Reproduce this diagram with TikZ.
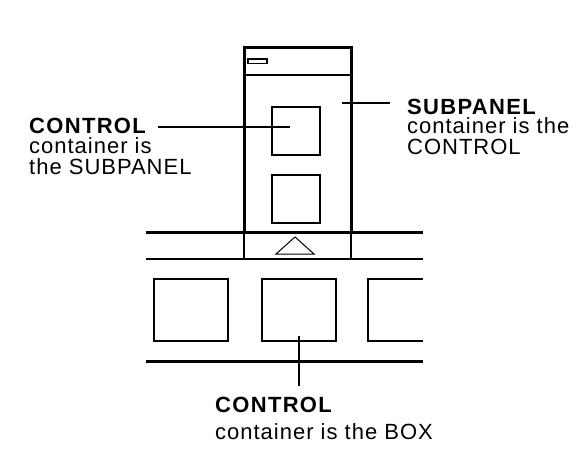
\documentclass[tikz,border=0pt]{standalone}
\usepackage{fontspec}
\setmainfont{Liberation Sans}
\newfontfamily\bodyfont{Liberation Sans}[LetterSpace=4.5]
\newfontfamily\headfont{Liberation Sans}[LetterSpace=6]
\usetikzlibrary{positioning}

\tikzset{
  heavy/.style={line width=3pt},
  light/.style={line width=2pt},
  ctrlbox/.style={draw,light,inner sep=0pt,minimum width=48pt,minimum height=48pt},
  slotbox/.style={draw,light,inner sep=0pt,minimum width=74pt,minimum height=62pt},
  head/.style={inner sep=0pt,anchor=base west,font=\headfont\bfseries\fontsize{22}{22}\selectfont},
  body/.style={inner sep=0pt,anchor=base west,font=\bodyfont\fontsize{22}{22}\selectfont},
  leader/.style={line width=1.5pt},
}

\begin{document}
\begin{tikzpicture}[x=1pt,y=-1pt]
  \useasboundingbox (0,0) rectangle (586,468);
  % box rows
  \draw[heavy] (146,232) -- (423,232);
  \draw[light] (146,259) -- (423,259);
  \draw[heavy] (146,361.5) -- (423,361.5);
  \draw[light] (244,232) -- (244,259);
  \draw[light] (351,232) -- (351,259);
  \draw[line width=1pt] (276,254) -- (295,237) -- (314,254) -- cycle;
  \node[slotbox] (slotA) at (191,310) {};
  \node[slotbox] (slotB) at (299,310) {};
  \draw[light] (423,279) -- (368,279) -- (368,341) -- (423,341);
  % subpanel
  \node[draw,heavy,inner sep=0pt,minimum width=107pt,minimum height=184pt] (subpanel) at (297.5,140) {};
  \draw[light] (244,75) -- (351,75);
  \draw[line width=1.5pt] (248,59) rectangle (267,63.5);
  \node[ctrlbox] (ctrlA) at (296,131) {};
  \node[ctrlbox] (ctrlB) at (296,199) {};
  % labels
  \node[head] (ctrlHead) at (29,133) {CONTROL};
  \node[body] (ctrlBodyA) at ([yshift=-20.5pt]ctrlHead.base west) {container is};
  \node[body] (ctrlBodyB) at ([yshift=-20.5pt]ctrlBodyA.base west) {the SUBPANEL};
  \node[head] (subHead) at (407,114) {SUBPANEL};
  \node[body] (subBodyA) at ([yshift=-20pt]subHead.base west) {container is the};
  \node[body] (subBodyB) at ([yshift=-20pt]subBodyA.base west) {CONTROL};
  \node[head] (boxHead) at (215,412) {CONTROL};
  \node[body] (boxBody) at ([yshift=-27pt]boxHead.base west) {container is the BOX};
  % leaders
  \coordinate (ctrlTip) at (290,127);
  \coordinate (ctrlEnd) at (158,127);
  \coordinate (subTip) at (342,103);
  \coordinate (subEnd) at (390,103);
  \coordinate (slotTip) at (299,336);
  \coordinate (slotEnd) at (299,386);
  \draw[leader] (ctrlEnd) -- (ctrlTip);
  \draw[leader] (subTip) -- (subEnd);
  \draw[leader] (slotTip) -- (slotEnd);
\end{tikzpicture}
\end{document}
